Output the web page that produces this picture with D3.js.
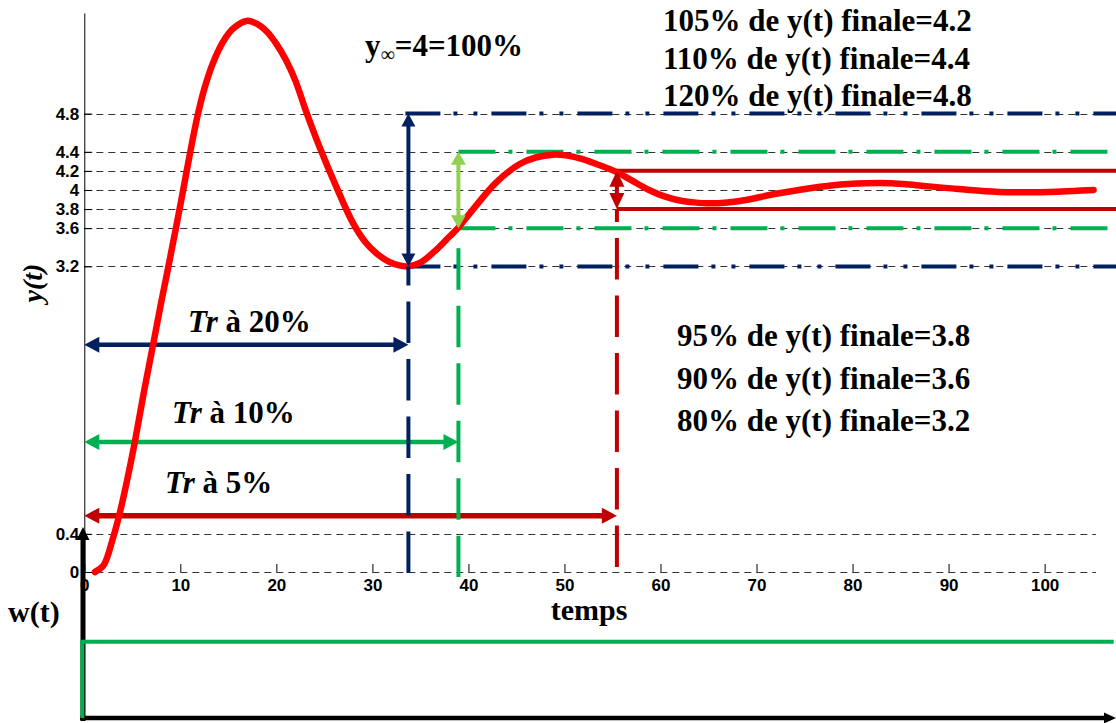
<html>
<head>
<script src="https://d3js.org/d3.v7.min.js"></script>
<style>
  body { margin: 0; background: #fff; }
  text { font-family: "Liberation Serif", "Times New Roman", serif; font-weight: bold; }
  .tick text { font-family: "Liberation Sans", Arial, sans-serif; font-weight: bold; font-size: 17px; }
</style>
</head>
<body>
<svg id="chart" width="1116" height="723"></svg>
<script>
// step response
const tTime = [1.1, 2.0, 3.0, 3.7, 4.5, 5.3, 6.2, 7.2, 8.0, 8.7, 9.5, 10.3, 11.0, 11.8, 12.5, 13.4, 14.5, 15.5, 16.9, 18.0,
  19.0, 20.0, 21.0, 22.0, 23.0, 24.5, 26.3, 28.0, 29.3, 30.5, 31.7, 32.8, 33.7, 35.0, 36.5, 38.0, 38.9, 40.5, 42.9, 45.3,
  47.0, 48.8, 50.3, 51.6, 53.1, 55.4, 57.0, 58.8, 60.5, 62.0, 63.5, 65.1, 67.0, 69.2, 71.5, 74.4, 78.0, 81.4, 84.0, 86.6,
  91.0, 95.2, 100.4, 103.0, 105.1];
const yResp = [0, 0.07, 0.36, 0.62, 0.98, 1.38, 1.88, 2.40, 2.82, 3.17, 3.58, 4.0, 4.38, 4.78, 5.06, 5.33, 5.56, 5.69, 5.77, 5.74,
  5.66, 5.53, 5.36, 5.14, 4.85, 4.45, 4.02, 3.65, 3.45, 3.33, 3.25, 3.21, 3.20, 3.24, 3.36, 3.51, 3.60, 3.80, 4.08, 4.27,
  4.34, 4.37, 4.36, 4.33, 4.28, 4.19, 4.10, 4.00, 3.93, 3.89, 3.87, 3.86, 3.87, 3.90, 3.95, 4.00, 4.05, 4.07, 4.07, 4.05,
  4.01, 3.98, 3.98, 3.99, 4.0];

const yTicks = [0, 0.4, 3.2, 3.6, 3.8, 4, 4.2, 4.4, 4.8];
const xTicks = [0, 10, 20, 30, 40, 50, 60, 70, 80, 90, 100];

// tolerance bands: 20%, 10%, 5%
const bandPct = ["20%", "10%", "5%"];
const bandLo = [3.2, 3.6, 3.8];
const bandHi = [4.8, 4.4, 4.2];
const trTimes = [33.75, 38.96, 55.46];
const trLevels = [2.38, 1.36, 0.59];

const topNotes = ["105% de y(t) finale=4.2", "110% de y(t) finale=4.4", "120% de y(t) finale=4.8"];
const bottomNotes = ["95% de y(t) finale=3.8", "90% de y(t) finale=3.6", "80% de y(t) finale=3.2"];

// input step w(t)
const wTime = [0, 0, 107.4];
const wVal = [0, 1, 1];

let svg = d3.select("svg#chart");
let width = +svg.attr("width");

let xScale = d3.scaleLinear().domain([0, 105.35]).range([84.3, 1096]);
let yScale = d3.scaleLinear().domain([0, 5.853]).range([572, 13]);
let wScale = d3.scaleLinear().domain([0, 1]).range([718, 641.7]);

const navy = "#002060", green = "#00b050", lime = "#92d050", dred = "#c00000";

function arrowHead(g, tx, ty, dx, dy, len, wid, color) {
  const bx = tx - dx * len, by = ty - dy * len;
  const px = -dy * wid / 2, py = dx * wid / 2;
  g.append("path")
    .attr("d", "M" + tx + "," + ty + "L" + (bx + px) + "," + (by + py) + "L" + (bx - px) + "," + (by - py) + "Z")
    .attr("fill", color);
}

function arrow(g, x1, y1, x2, y2, color, sw, len, wid, both) {
  const L = Math.hypot(x2 - x1, y2 - y1);
  const ux = (x2 - x1) / L, uy = (y2 - y1) / L;
  const s = both ? len * 0.8 : 0;
  g.append("line")
    .attr("x1", x1 + ux * s).attr("y1", y1 + uy * s)
    .attr("x2", x2 - ux * len * 0.8).attr("y2", y2 - uy * len * 0.8)
    .attr("stroke", color).attr("stroke-width", sw);
  arrowHead(g, x2, y2, ux, uy, len, wid, color);
  if (both) arrowHead(g, x1, y1, -ux, -uy, len, wid, color);
}

//dashed grid lines at every y tick
svg.append("g").selectAll("line").data(yTicks).join("line")
  .attr("x1", xScale(0)).attr("x2", xScale(105.35))
  .attr("y1", d => Math.round(yScale(d)) + 0.5).attr("y2", d => Math.round(yScale(d)) + 0.5)
  .attr("stroke", "#333").attr("stroke-width", 1).attr("stroke-dasharray", "7,5");

//y axis
let yAxis = d3.axisLeft(yScale).tickValues(yTicks).tickFormat(d => d).tickSizeInner(-8).tickSizeOuter(0).tickPadding(5);
svg.append("g").attr("transform", "translate(" + xScale(0) + ",0)").call(yAxis)
  .call(g => g.selectAll("text").attr("fill", "#000"));

//x axis (no domain line, the 0 grid line stands for it)
let xAxis = d3.axisBottom(xScale).tickValues(xTicks).tickFormat(d => d).tickSizeInner(-8).tickSizeOuter(0).tickPadding(7);
svg.append("g").attr("transform", "translate(0," + yScale(0) + ")").call(xAxis)
  .call(g => g.select(".domain").remove())
  .call(g => g.selectAll("text").attr("fill", "#000"));

//horizontal Tr arrows
const trColors = [navy, green, dred];
const trWidths = [4.5, 4.5, 5.5];
bandPct.forEach(function(p, i) {
  arrow(svg, xScale(0), yScale(trLevels[i]), xScale(trTimes[i]), yScale(trLevels[i]), trColors[i], trWidths[i], 15, 16, true);
});

//band limit lines
const navyDash = "35,13,4,16,4,14";
const greenDash = "37,13,4,14";
[bandLo[0], bandHi[0]].forEach(function(v) {
  svg.append("line").attr("x1", xScale(trTimes[0]) - 3).attr("x2", width)
    .attr("y1", yScale(v)).attr("y2", yScale(v))
    .attr("stroke", navy).attr("stroke-width", 4).attr("stroke-dasharray", navyDash);
});
[bandLo[1], bandHi[1]].forEach(function(v) {
  svg.append("line").attr("x1", xScale(trTimes[1])).attr("x2", width)
    .attr("y1", yScale(v)).attr("y2", yScale(v))
    .attr("stroke", green).attr("stroke-width", 4).attr("stroke-dasharray", greenDash);
});
[bandLo[2], bandHi[2]].forEach(function(v) {
  svg.append("line").attr("x1", xScale(trTimes[2])).attr("x2", width)
    .attr("y1", yScale(v)).attr("y2", yScale(v))
    .attr("stroke", dred).attr("stroke-width", 4);
});

//response curve
let line = d3.line().x((d, i) => xScale(tTime[i])).y(d => yScale(d)).curve(d3.curveCatmullRom);
svg.append("path").datum(yResp).attr("d", line)
  .attr("fill", "none").attr("stroke", "#ff0000").attr("stroke-width", 6.5)
  .attr("stroke-linejoin", "round").attr("stroke-linecap", "round");

//vertical dashed lines down to the time axis
svg.append("line").attr("x1", xScale(trTimes[0])).attr("x2", xScale(trTimes[0]))
  .attr("y1", yScale(bandLo[0])).attr("y2", yScale(0) + 1)
  .attr("stroke", navy).attr("stroke-width", 4).attr("stroke-dasharray", "41.5,16").attr("stroke-dashoffset", 22.5);
svg.append("line").attr("x1", xScale(trTimes[1])).attr("x2", xScale(trTimes[1]))
  .attr("y1", yScale(bandLo[1]) + 20).attr("y2", yScale(0) + 5)
  .attr("stroke", green).attr("stroke-width", 4).attr("stroke-dasharray", "41.5,16");
svg.append("line").attr("x1", xScale(trTimes[2])).attr("x2", xScale(trTimes[2]))
  .attr("y1", yScale(bandLo[2])).attr("y2", yScale(0) - 5)
  .attr("stroke", dred).attr("stroke-width", 4).attr("stroke-dasharray", "41.5,16").attr("stroke-dashoffset", 28.5);

//vertical double arrows showing each band
arrow(svg, xScale(trTimes[0]), yScale(bandHi[0]), xScale(trTimes[0]), yScale(bandLo[0]), navy, 4, 13, 14, true);
arrow(svg, xScale(trTimes[1]), yScale(bandHi[1]), xScale(trTimes[1]), yScale(bandLo[1]), lime, 4, 13, 15, true);
arrow(svg, xScale(trTimes[2]), yScale(bandHi[2]), xScale(trTimes[2]), yScale(bandLo[2]), dred, 4, 16, 15, true);

//Tr labels
const trLabelX = [188, 172, 165];
const trLabelY = [332, 423, 493];
bandPct.forEach(function(p, i) {
  let t = svg.append("text").attr("x", trLabelX[i]).attr("y", trLabelY[i]).attr("font-size", 31);
  t.append("tspan").attr("font-style", "italic").text("Tr");
  t.append("tspan").text(" à " + p);
});

//notes
topNotes.forEach(function(s, i) {
  svg.append("text").attr("x", 663).attr("y", 31 + i * 37.5).attr("font-size", 31).text(s);
});
bottomNotes.forEach(function(s, i) {
  svg.append("text").attr("x", 677).attr("y", 346 + i * 42.5).attr("font-size", 31).text(s);
});

//y infinity label
let yinf = svg.append("text").attr("x", 365).attr("y", 56).attr("font-size", 31);
yinf.append("tspan").text("y");
yinf.append("tspan").attr("font-size", 20).attr("font-weight", "normal").attr("dy", 5).text("\u221e");
yinf.append("tspan").attr("dy", -5).text("=4=100%");

//axis titles
svg.append("text").attr("transform", "translate(42,283) rotate(-90)").attr("text-anchor", "middle")
  .attr("font-size", 28).attr("font-style", "italic").text("y(t)");
svg.append("text").attr("x", 589).attr("y", 620).attr("text-anchor", "middle").attr("font-size", 30).text("temps");
svg.append("text").attr("x", 8).attr("y", 622).attr("font-size", 30).text("w(t)");

//bottom part: time arrow, w axis arrow and the step input
arrow(svg, 80, 718, width, 718, "#000", 4.5, 12, 11, false);
arrow(svg, 83, 721, 83, 527, "#000", 5, 13, 13, false);
let wLine = d3.line().x((d, i) => xScale(wTime[i]) - 2).y(d => wScale(d)).curve(d3.curveStepAfter);
svg.append("path").datum(wVal).attr("d", wLine)
  .attr("fill", "none").attr("stroke", green).attr("stroke-width", 4);
</script>
</body>
</html>
